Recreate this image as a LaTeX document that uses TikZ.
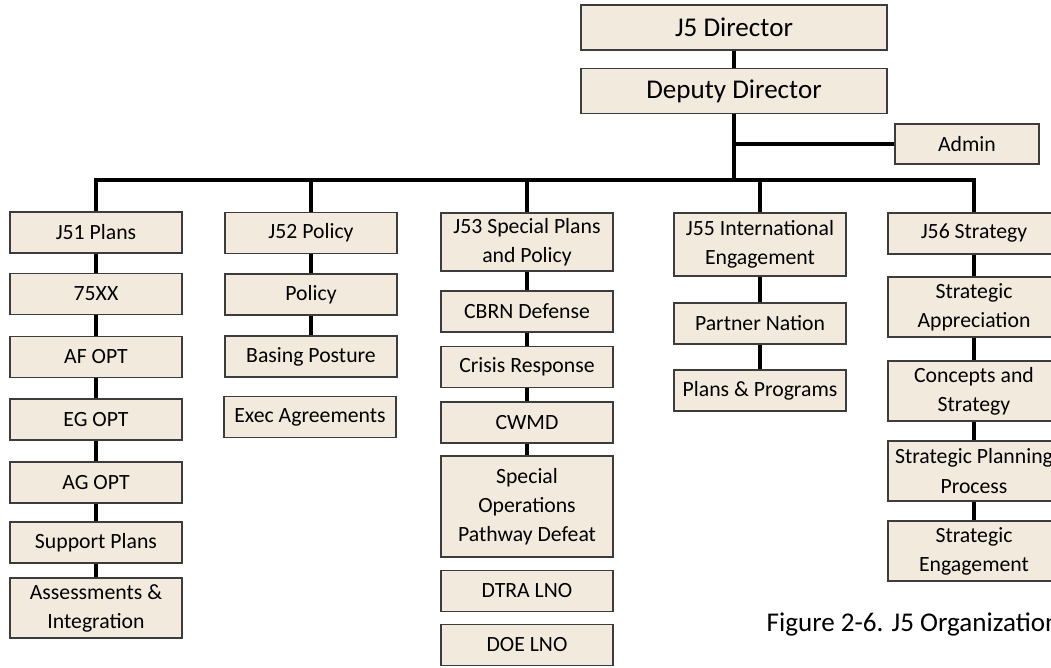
\documentclass[tikz,border=0pt]{standalone}
\usepackage{fontspec}
\setmainfont{Carlito}
\definecolor{boxfill}{RGB}{242,234,220}
\definecolor{boxline}{RGB}{60,60,60}
\begin{document}
\begin{tikzpicture}[x=0.75pt,y=-0.75pt,
    unit/.style={draw=boxline,line width=1.1pt,fill=boxfill,inner sep=0pt,
      minimum width=129pt,minimum height=30.75pt,align=center,
      font=\fontsize{16.3}{21.8}\selectfont},
    twoline/.style={minimum height=45pt},
    head/.style={unit,minimum width=229.5pt,minimum height=33.75pt,
      font=\fontsize{20.3}{24}\selectfont},
    link/.style={draw=black,line width=2.6pt}]
  \useasboundingbox (0,0) rectangle (1051,668);
  \clip (0,0) rectangle (1051,668);
  % top of the chart
  \node[head] (dir) at (734,27.5) {J5 Director};
  \node[head] (dep) at (734,91) {Deputy Director};
  \node[unit,minimum width=108pt,minimum height=30pt] (admin) at (967,144) {Admin};
  \coordinate (bus) at (734,180);
  % J51
  \node[unit] (j51) at (96,232.5) {J51 Plans};
  \node[unit] (a1) at (96,294) {75XX};
  \node[unit] (a2) at (96,357) {AF OPT};
  \node[unit] (a3) at (96,419.5) {EG OPT};
  \node[unit] (a4) at (96,482.5) {AG OPT};
  \node[unit] (a5) at (96,542.5) {Support Plans};
  \node[unit,twoline] (a6) at (96,608) {Assessments \&\\Integration};
  % J52
  \node[unit] (j52) at (311,233) {J52 Policy};
  \node[unit] (b1) at (311,294.5) {Policy};
  \node[unit] (b2) at (311,356.5) {Basing Posture};
  \node[unit] (b3) at (310,417) {Exec Agreements};
  % J53
  \node[unit,minimum height=43.5pt] (j53) at (527,242) {J53 Special Plans\\and Policy};
  \node[unit] (c1) at (527,311.5) {CBRN Defense};
  \node[unit] (c2) at (527,367) {Crisis Response};
  \node[unit] (c3) at (527,422.5) {CWMD};
  \node[unit,minimum height=75.75pt] (c4) at (527,506.5) {Special\\Operations\\Pathway Defeat};
  \node[unit] (c5) at (527,591) {DTRA LNO};
  \node[unit] (c6) at (527,645) {DOE LNO};
  % J55
  \node[unit,minimum height=47.25pt] (j55) at (760,244.5) {J55 International\\Engagement};
  \node[unit] (d1) at (760,323.5) {Partner Nation};
  \node[unit] (d2) at (760,390.5) {Plans \& Programs};
  % J56
  \node[unit] (j56) at (974,233.5) {J56 Strategy};
  \node[unit,twoline] (e1) at (974,307) {Strategic\\Appreciation};
  \node[unit,twoline] (e2) at (974,391) {Concepts and\\Strategy};
  \node[unit,twoline] (e3) at (974,471) {Strategic Planning\\Process};
  \node[unit,twoline] (e4) at (974,551) {Strategic\\Engagement};
  \node[anchor=base west,font=\fontsize{20.3}{24}\selectfont] (cap) at (762,631)
    {Figure 2-6. J5 Organization};
  \begin{scope}[link]
    \draw (dir) -- (dep);
    \draw (dep.south) -- (bus);
    \draw (admin.west) -- (admin.west -| bus);
    \foreach \n in {j51,j52,j53,j55,j56}
      \draw (\n.north) |- (bus);
    \foreach \a/\b in {j51/a1,a1/a2,a2/a3,a3/a4,a4/a5,a5/a6,
        j52/b1,b1/b2,j53/c1,c1/c2,c2/c3,c3/c4,
        j55/d1,d1/d2,j56/e1,e1/e2,e2/e3,e3/e4}
      \draw (\a) -- (\b);
  \end{scope}
\end{tikzpicture}
\end{document}
